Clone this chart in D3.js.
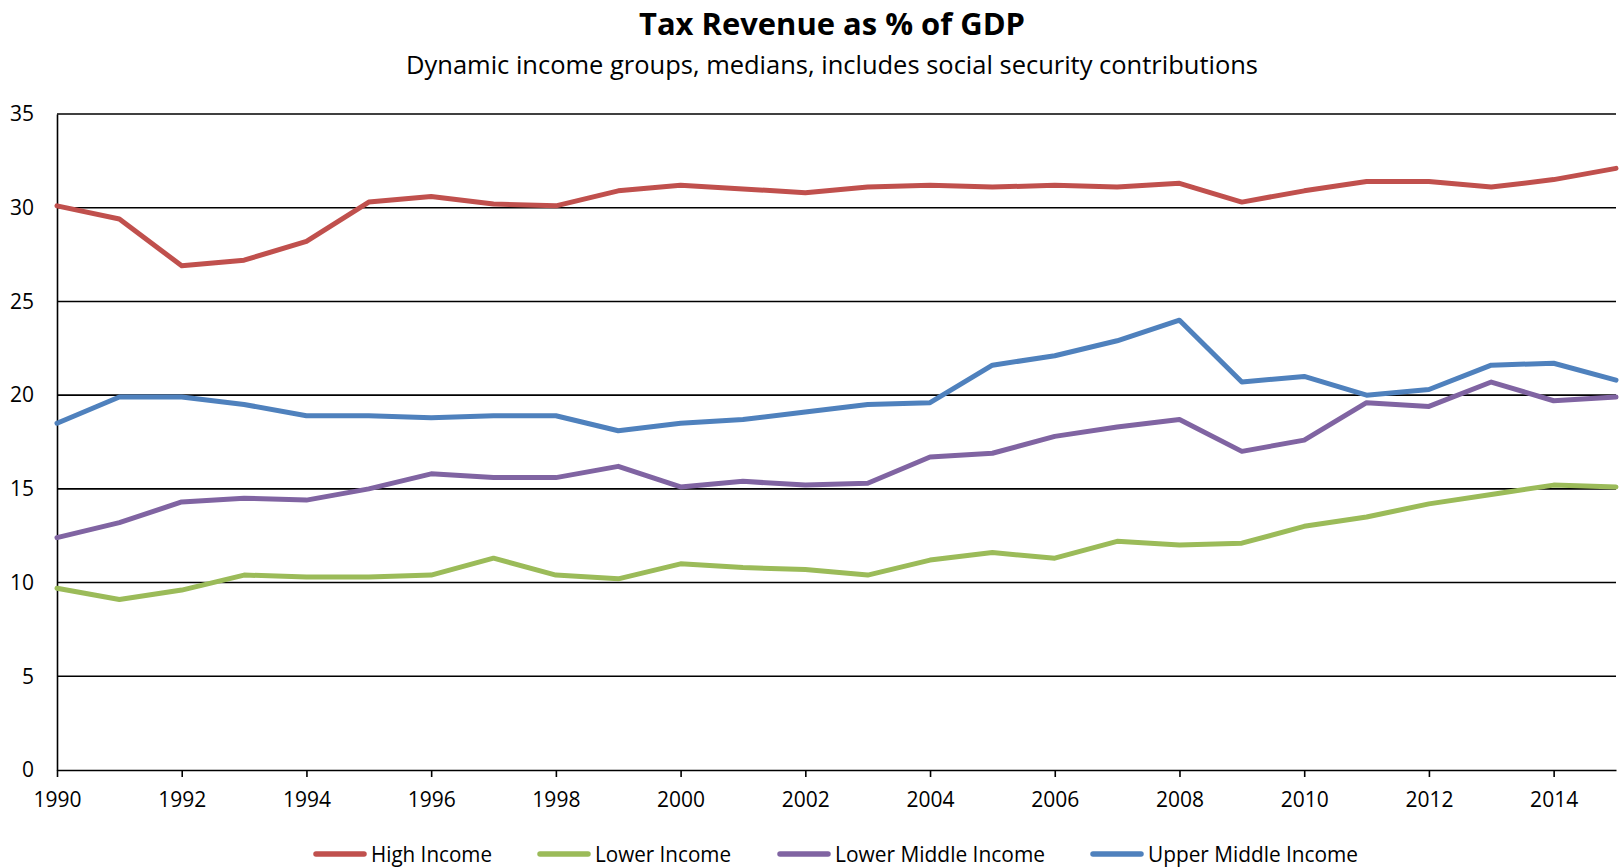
<!DOCTYPE html>
<html>
<head>
<meta charset="utf-8">
<script src="https://cdn.jsdelivr.net/npm/d3@7"></script>
<style>
  html, body { margin: 0; padding: 0; background: #fff; }
  svg { display: block; }
  text { font-family: "Liberation Sans Narrow", "Open Sans", sans-serif; fill: #000; }
</style>
</head>
<body>
<svg id="chart" width="1623" height="867"></svg>
<script>
// Tax revenue as % of GDP, medians by dynamic income group
const years = d3.range(1990, 2016);

const highIncome = [30.1, 29.4, 26.9, 27.2, 28.2, 30.3, 30.6, 30.2, 30.1, 30.9, 31.2, 31.0, 30.8,
  31.1, 31.2, 31.1, 31.2, 31.1, 31.3, 30.3, 30.9, 31.4, 31.4, 31.1, 31.5, 32.1];
const lowerIncome = [9.7, 9.1, 9.6, 10.4, 10.3, 10.3, 10.4, 11.3, 10.4, 10.2, 11.0, 10.8, 10.7,
  10.4, 11.2, 11.6, 11.3, 12.2, 12.0, 12.1, 13.0, 13.5, 14.2, 14.7, 15.2, 15.1];
const lowerMiddleIncome = [12.4, 13.2, 14.3, 14.5, 14.4, 15.0, 15.8, 15.6, 15.6, 16.2, 15.1, 15.4, 15.2,
  15.3, 16.7, 16.9, 17.8, 18.3, 18.7, 17.0, 17.6, 19.6, 19.4, 20.7, 19.7, 19.9];
const upperMiddleIncome = [18.5, 19.9, 19.9, 19.5, 18.9, 18.9, 18.8, 18.9, 18.9, 18.1, 18.5, 18.7, 19.1,
  19.5, 19.6, 21.6, 22.1, 22.9, 24.0, 20.7, 21.0, 20.0, 20.3, 21.6, 21.7, 20.8];

const seriesNames = ["High Income", "Lower Income", "Lower Middle Income", "Upper Middle Income"];
const seriesValues = [highIncome, lowerIncome, lowerMiddleIncome, upperMiddleIncome];
const seriesColors = ["#C0504D", "#9BBB59", "#8064A2", "#4F81BD"];

const yTicks = [0, 5, 10, 15, 20, 25, 30, 35];
const xTicks = d3.range(1990, 2015, 2);

const titleText = "Tax Revenue as % of GDP";
const subtitleText = "Dynamic income groups, medians, includes social security contributions";

const svg = d3.select("#chart");
const plot = { left: 57, right: 1616, top: 114, bottom: 770 };

const x = d3.scaleLinear().domain([1990, 2015]).range([plot.left, plot.right]);
const y = d3.scaleLinear().domain([0, 35]).range([plot.bottom, plot.top]);

// Title and subtitle
svg.append("text")
  .attr("x", 832).attr("y", 35)
  .attr("text-anchor", "middle")
  .attr("font-size", 31).attr("font-weight", "bold")
  .attr("textLength", 386).attr("lengthAdjust", "spacingAndGlyphs")
  .text(titleText);
svg.append("text")
  .attr("x", 832).attr("y", 74)
  .attr("text-anchor", "middle")
  .attr("font-size", 26)
  .attr("textLength", 852).attr("lengthAdjust", "spacingAndGlyphs")
  .text(subtitleText);

// Horizontal gridlines
svg.append("g")
  .selectAll("line")
  .data(yTicks.filter(d => d > 0))
  .join("line")
  .attr("x1", plot.left).attr("x2", plot.right)
  .attr("y1", d => y(d)).attr("y2", d => y(d))
  .attr("stroke", "#000").attr("stroke-width", 1.6);

// Y axis
const yAxis = svg.append("g")
  .attr("transform", `translate(${plot.left},0)`)
  .call(d3.axisLeft(y).tickValues(yTicks).tickSize(0).tickPadding(23));
yAxis.select(".domain").attr("stroke", "#000").attr("stroke-width", 1.6);
yAxis.selectAll("text")
  .attr("font-size", 21)
  .attr("font-family", "Liberation Sans Narrow, Open Sans, sans-serif")
  .attr("fill", "#000");

// X axis
const xAxis = svg.append("g")
  .attr("transform", `translate(0,${plot.bottom})`)
  .call(d3.axisBottom(x).tickValues(xTicks).tickFormat(d3.format("d")).tickSizeInner(7).tickSizeOuter(0).tickPadding(15));
xAxis.select(".domain").attr("stroke", "#000").attr("stroke-width", 1.6);
xAxis.selectAll(".tick line").attr("stroke", "#000").attr("stroke-width", 1.6);
xAxis.selectAll("text")
  .attr("font-size", 21)
  .attr("font-family", "Liberation Sans Narrow, Open Sans, sans-serif")
  .attr("fill", "#000");

// Series lines
const line = d3.line()
  .x((d, i) => x(years[i]))
  .y(d => y(d));

svg.append("g")
  .selectAll("path")
  .data(seriesValues)
  .join("path")
  .attr("d", d => line(d))
  .attr("fill", "none")
  .attr("stroke", (d, i) => seriesColors[i])
  .attr("stroke-width", 5)
  .attr("stroke-linejoin", "round")
  .attr("stroke-linecap", "round");

// Legend
const legendItems = [
  { x: 313, textLen: 121 },
  { x: 537, textLen: 136 },
  { x: 777, textLen: 210 },
  { x: 1090, textLen: 210 }
];
const legend = svg.append("g");
const item = legend.selectAll("g")
  .data(seriesNames)
  .join("g")
  .attr("transform", (d, i) => `translate(${legendItems[i].x},854)`);
item.append("line")
  .attr("x1", 3).attr("x2", 51)
  .attr("y1", 0).attr("y2", 0)
  .attr("stroke", (d, i) => seriesColors[i])
  .attr("stroke-width", 5.5)
  .attr("stroke-linecap", "round");
item.append("text")
  .attr("x", 58).attr("y", 8)
  .attr("font-size", 22)
  .attr("textLength", (d, i) => legendItems[i].textLen)
  .attr("lengthAdjust", "spacingAndGlyphs")
  .text(d => d);
</script>
</body>
</html>
